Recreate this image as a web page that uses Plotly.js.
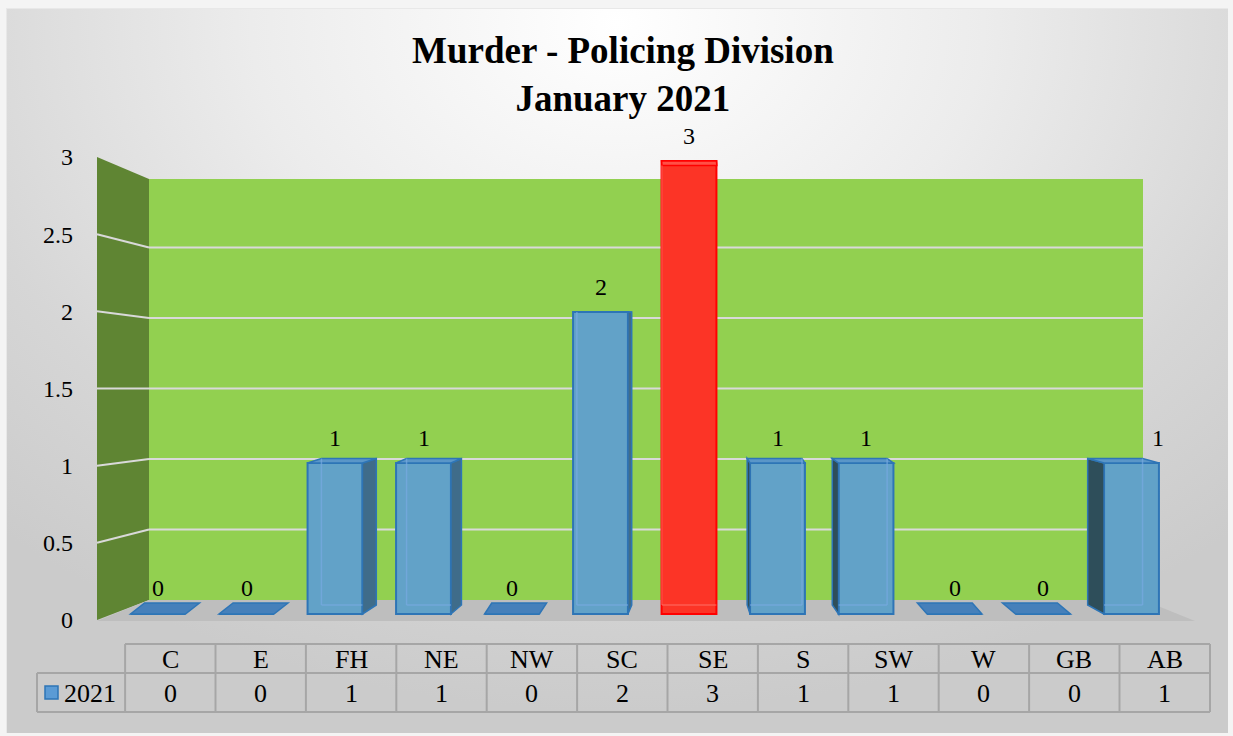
<!DOCTYPE html>
<html>
<head>
<meta charset="utf-8">
<script src="https://cdn.plot.ly/plotly-3.0.1.min.js"></script>
<style>
  html, body { margin:0; padding:0; background:#f4f4f4; }
  #bg { position:absolute; left:6px; top:8px; width:1221px; height:724px;
        background: radial-gradient(ellipse 75% 95% at 50% 2%, #ffffff 0%, #ececec 40%, #d6d6d6 75%, #cbcbcb 100%);
        border-top:1px solid #e8e8e8; border-left:1px solid #e8e8e8; }
  #chart { position:absolute; left:0; top:0; width:1233px; height:736px; }
</style>
</head>
<body>
<div id="bg"></div>
<div id="chart"></div>
<script>
// ---- data ----
const categories = ["C", "E", "FH", "NE", "NW", "SC", "SE", "S", "SW", "W", "GB", "AB"];
const seriesName = "2021";
const values = [0, 0, 1, 1, 0, 2, 3, 1, 1, 0, 0, 1];
const yTickVals = [0, 0.5, 1, 1.5, 2, 2.5, 3];
const yTickText = ["0", "0.5", "1", "1.5", "2", "2.5", "3"];
const titleLines = ["Murder - Policing Division", "January 2021"];

// ---- geometry (pixels of the 1233x736 canvas) ----
const W = 1233, H = 736;
const px = x => x / W;
const py = y => 1 - y / H;
const FONT = '"Liberation Serif", "Times New Roman", Times, serif';

// bar axis: index i -> pixel 158 + 88.5 i ; value 0 -> 614 px, 151 px per unit
const barX0 = 158, barStep = 88.5, barY0 = 614, barUnit = 151;
// tick axis: value 0 -> 620 px, 154.33 px per unit
const tickY0 = 620, tickUnit = 154.33;
// table axis: index i -> 170.3 + 90.4 i
const tabX0 = 170.3, tabStep = 90.4;

const barW = 0.62;
const maxV = Math.max(...values);
const blue = "rgb(98,162,200)", blueLine = "rgb(46,117,182)";
const red = "rgb(252,52,38)", redLine = "rgb(255,0,0)";
const colors = values.map(v => v === maxV ? red : blue);
const lineColors = values.map(v => v === maxV ? redLine : blueLine);

const shapes = [];
// back wall
const wallTop = 179, wallBot = 600, wallL = 149, wallR = 1143, sideL = 97;
shapes.push({type:"rect", xref:"paper", yref:"paper", x0:px(wallL), x1:px(wallR), y0:py(wallBot), y1:py(wallTop),
  fillcolor:"rgb(146,208,80)", line:{width:0}, layer:"below"});
// left wall
shapes.push({type:"path", xref:"paper", yref:"paper", layer:"below",
  path:`M ${px(sideL)} ${py(157)} L ${px(wallL)} ${py(wallTop)} L ${px(wallL)} ${py(wallBot)} L ${px(sideL)} ${py(620)} Z`,
  fillcolor:"rgb(95,133,51)", line:{width:0}});
// floor
shapes.push({type:"path", xref:"paper", yref:"paper", layer:"below",
  path:`M ${px(sideL)} ${py(621)} L ${px(wallL)} ${py(wallBot)} L ${px(wallR)} ${py(wallBot)} L ${px(1195)} ${py(621)} Z`,
  fillcolor:"rgb(190,190,190)", line:{width:0}});
// gridlines on walls
const backUnit = 141;
yTickVals.forEach(v => {
  if (v === 0 || v === 3) return;
  const yb = wallBot - v * backUnit, yf = tickY0 - v * tickUnit;
  shapes.push({type:"line", xref:"paper", yref:"paper", layer:"below",
    x0:px(wallL), x1:px(wallR), y0:py(yb), y1:py(yb), line:{color:"rgb(217,217,217)", width:2}});
  shapes.push({type:"line", xref:"paper", yref:"paper", layer:"below",
    x0:px(sideL), x1:px(wallL), y0:py(yf), y1:py(yb), line:{color:"rgb(217,217,217)", width:2}});
});

// 3D parts of bars, built from the data values
const backB = 9 / barUnit;      // back bottom raise
const depthScale = 0.97;
values.forEach((v, i) => {
  const xc = barX0 + barStep * i;
  let dxPx = 0.038 * (700 - xc);
  dxPx = Math.max(-17, Math.min(14, dxPx));
  const dx = dxPx / barStep;
  const xl = i - barW / 2, xr = i + barW / 2;
  const isMax = v === maxV;
  if (v === 0) {
    const bz = 11 / barUnit;
    shapes.push({type:"path", xref:"x", yref:"y", layer:"above",
      path:`M ${xl} 0 L ${xr} 0 L ${xr + dx} ${bz} L ${xl + dx} ${bz} Z`,
      fillcolor:"rgb(70,128,186)", line:{color:"rgb(46,117,182)", width:1.5}});
    return;
  }
  const bt = backB + depthScale * v;
  const sideCol = isMax ? "rgb(200,30,20)" : (dx > 0 ? "rgb(63,108,138)" : "rgb(46,78,90)");
  const edge = isMax ? redLine : blueLine;
  if (Math.abs(dxPx) > 1.5) {
    const ex = dx > 0 ? xr : xl;
    shapes.push({type:"path", xref:"x", yref:"y", layer:"above",
      path:`M ${ex} 0 L ${ex + dx} ${backB} L ${ex + dx} ${bt} L ${ex} ${v} Z`,
      fillcolor:sideCol, line:{color:edge, width:1.5}});
  }
  // top face
  shapes.push({type:"path", xref:"x", yref:"y", layer:"above",
    path:`M ${xl} ${v} L ${xr} ${v} L ${xr + dx} ${bt} L ${xl + dx} ${bt} Z`,
    fillcolor: isMax ? "rgb(255,80,70)" : "rgb(90,150,200)", line:{color:edge, width:1.5}});
  // faint inner back edges
  const inner = isMax ? "rgba(255,120,110,0.6)" : "rgba(120,170,225,0.7)";
  const bx = dx > 0 ? xl + dx : xr + dx;
  shapes.push({type:"line", xref:"x", yref:"y", layer:"above",
    x0:bx, x1:bx, y0:backB, y1:bt, line:{color:inner, width:1.5}});
  shapes.push({type:"line", xref:"x", yref:"y", layer:"above",
    x0:xl + Math.max(dx,0), x1:xr + Math.min(dx,0), y0:backB, y1:backB, line:{color:inner, width:1.5}});
});

// table grid
const tabTop = 644, tabMid = 673, tabBot = 712, tabL = 125, tabR = 1210, legL = 37;
const gridCol = "rgb(166,166,166)";
const gl = (x0,y0,x1,y1) => shapes.push({type:"line", xref:"paper", yref:"paper",
  x0:px(x0), x1:px(x1), y0:py(y0), y1:py(y1), line:{color:gridCol, width:2}});
gl(tabL, tabTop, tabR, tabTop);
gl(legL, tabMid, tabR, tabMid);
gl(legL, tabBot, tabR, tabBot);
gl(legL, tabMid, legL, tabBot);
categories.forEach((c, i) => {
  const xb = tabX0 + tabStep * (i - 0.5);
  gl(xb, tabTop, xb, tabBot);
});
gl(tabR, tabTop, tabR, tabBot);
// legend key
shapes.push({type:"rect", xref:"paper", yref:"paper", x0:px(45), x1:px(58), y0:py(699), y1:py(686),
  fillcolor:"rgb(91,155,213)", line:{color:blueLine, width:1.5}});

// annotations
const annotations = [];
annotations.push({x:px(623), y:py(75), xref:"paper", yref:"paper", showarrow:false,
  text:"<b>" + titleLines.join("<br>") + "</b>", xanchor:"center", yanchor:"middle",
  font:{family:FONT, size:37, color:"#000"}});
values.forEach((v, i) => {
  annotations.push({x:i, y:v, xref:"x", yref:"y", text:String(v), showarrow:false,
    yanchor:"middle", yshift: v === 0 ? 26 : 25, xshift: i === values.length - 1 ? 26 : 0,
    font:{family:FONT, size:24, color:"#000"}});
});
categories.forEach((c, i) => {
  annotations.push({x:i, y:py(659), xref:"x2", yref:"paper", text:c, showarrow:false,
    yanchor:"middle", font:{family:FONT, size:26, color:"#000"}});
  annotations.push({x:i, y:py(693), xref:"x2", yref:"paper", text:String(values[i]), showarrow:false,
    yanchor:"middle", font:{family:FONT, size:26, color:"#000"}});
});
annotations.push({x:px(90), y:py(693), xref:"paper", yref:"paper", text:seriesName, showarrow:false,
  xanchor:"center", yanchor:"middle", font:{family:FONT, size:26, color:"#000"}});

const traces = [{
  type:"bar", x:categories.map((c, i) => i), y:values, width:barW, name:seriesName,
  marker:{color:colors, line:{color:lineColors, width:2}},
  hoverinfo:"skip", showlegend:false
}, {
  type:"scatter", x:[0], y:[0], xaxis:"x2", yaxis:"y2", mode:"markers",
  marker:{opacity:0}, hoverinfo:"skip", showlegend:false
}];

const layout = {
  width:W, height:H,
  margin:{l:0, r:0, t:0, b:0},
  paper_bgcolor:"rgba(0,0,0,0)", plot_bgcolor:"rgba(0,0,0,0)",
  showlegend:false,
  xaxis:{range:[-barX0 / barStep, (W - barX0) / barStep], visible:false, fixedrange:true},
  yaxis:{range:[-(H - barY0) / barUnit, barY0 / barUnit], visible:false, fixedrange:true},
  xaxis2:{range:[-tabX0 / tabStep, (W - tabX0) / tabStep], overlaying:"x", visible:false},
  yaxis2:{range:[-(H - tickY0) / tickUnit, tickY0 / tickUnit], overlaying:"y", side:"left",
    anchor:"free", position:px(73), tickvals:yTickVals, ticktext:yTickText,
    showgrid:false, zeroline:false, showline:false, ticks:"",
    tickfont:{family:FONT, size:24, color:"#000"}},
  shapes:shapes, annotations:annotations
};
Plotly.newPlot("chart", traces, layout, {displayModeBar:false, staticPlot:true});
</script>
</body>
</html>
